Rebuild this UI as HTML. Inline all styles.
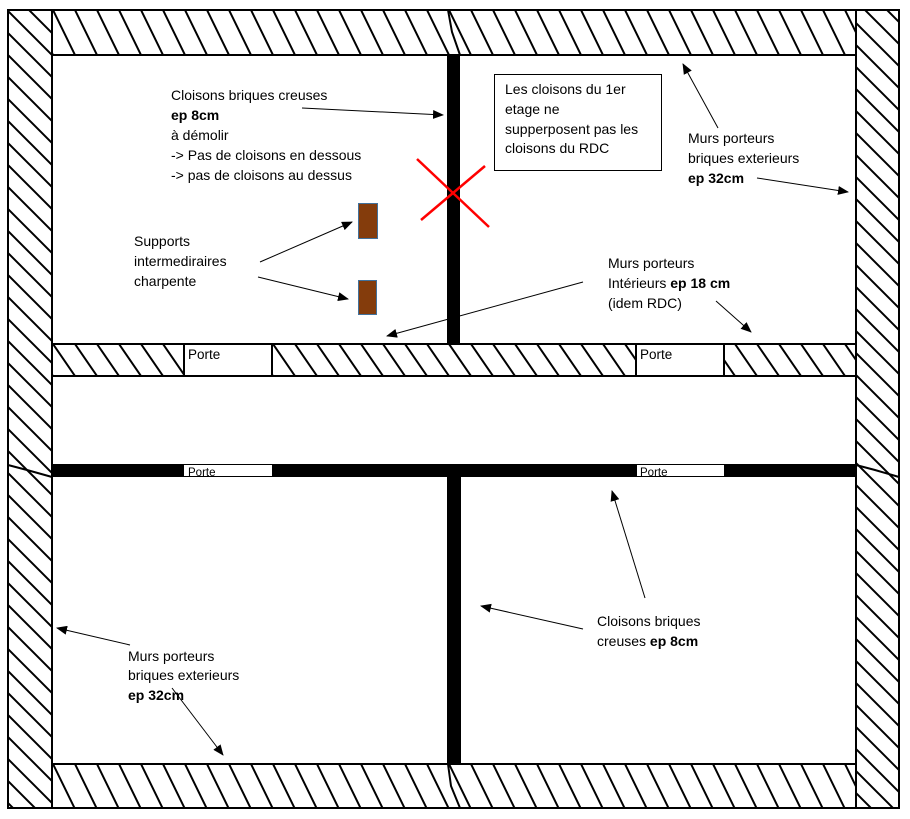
<!DOCTYPE html>
<html><head><meta charset="utf-8">
<style>
html,body{margin:0;padding:0;background:#fff;width:910px;height:819px;overflow:hidden}
svg{display:block}
text{font-family:"Liberation Sans",Arial,sans-serif;font-size:14px;fill:#000}
.b{font-weight:bold}
</style></head>
<body>
<svg width="910" height="819" viewBox="0 0 910 819" xmlns="http://www.w3.org/2000/svg">
<defs>
<pattern id="hT" x="75" y="10" width="22" height="45" patternUnits="userSpaceOnUse">
<path d="M-22,-45 L44,90 M-44,-45 L22,90 M0,-45 L66,90" stroke="#000" stroke-width="2" fill="none"/>
</pattern>
<pattern id="hB" x="75" y="764" width="22" height="45" patternUnits="userSpaceOnUse">
<path d="M-22,-45 L44,90 M-44,-45 L22,90 M0,-45 L66,90" stroke="#000" stroke-width="2" fill="none"/>
</pattern>
<pattern id="hL" x="8" y="11" width="22" height="22" patternUnits="userSpaceOnUse">
<path d="M-22,-22 L44,44 M-22,0 L22,44 M0,-22 L44,22" stroke="#000" stroke-width="2" fill="none"/>
</pattern>
<pattern id="hR" x="857" y="420" width="22" height="22" patternUnits="userSpaceOnUse">
<path d="M-22,-22 L44,44 M-22,0 L22,44 M0,-22 L44,22" stroke="#000" stroke-width="2" fill="none"/>
</pattern>
<pattern id="hM" x="75" y="344" width="22" height="32" patternUnits="userSpaceOnUse">
<path d="M-22,-32 L44,64 M-44,-32 L22,64 M0,-32 L66,64" stroke="#000" stroke-width="2" fill="none"/>
</pattern>
<marker id="ah" markerUnits="userSpaceOnUse" markerWidth="11" markerHeight="9" refX="10" refY="4.5" orient="auto">
<path d="M0,0 L11,4.5 L0,9 z" fill="#000"/>
</marker>
</defs>

<rect x="0" y="0" width="910" height="819" fill="#fff"/>

<!-- hatched walls -->
<rect x="8" y="10" width="44" height="798" fill="url(#hL)"/>
<rect x="856" y="10" width="43" height="798" fill="url(#hR)"/>
<rect x="52" y="10" width="804" height="45" fill="url(#hT)"/>
<rect x="52" y="764" width="804" height="44" fill="url(#hB)"/>
<rect x="52" y="344" width="804" height="32" fill="url(#hM)"/>

<!-- kinks -->
<polyline points="448,10 452,32 460,55" fill="none" stroke="#000" stroke-width="2"/>
<polyline points="448,764 451,786 460,808" fill="none" stroke="#000" stroke-width="2"/>
<polyline points="8,465 27,470 52,477" fill="none" stroke="#000" stroke-width="2"/>
<polyline points="856,465 875,470 899,477" fill="none" stroke="#000" stroke-width="2"/>

<!-- wall outlines -->
<g fill="none" stroke="#000" stroke-width="2">
<rect x="8" y="10" width="891" height="798"/>
<line x1="52" y1="10" x2="52" y2="808"/>
<line x1="856" y1="10" x2="856" y2="808"/>
<line x1="52" y1="55" x2="856" y2="55"/>
<line x1="52" y1="764" x2="856" y2="764"/>
<rect x="52" y="344" width="804" height="32"/>
</g>

<!-- doors in hatched wall -->
<rect x="184" y="344" width="88" height="32" fill="#fff" stroke="#000" stroke-width="2"/>
<rect x="636" y="344" width="88" height="32" fill="#fff" stroke="#000" stroke-width="2"/>
<text x="188" y="359" style="font-size:13.5px">Porte</text>
<text x="640" y="359" style="font-size:13.5px">Porte</text>

<!-- black partitions -->
<rect x="52" y="464" width="804" height="13" fill="#000"/>
<rect x="447" y="55" width="13" height="289" fill="#000"/>
<rect x="447" y="477" width="14" height="287" fill="#000"/>
<rect x="184" y="465" width="88" height="11" fill="#fff"/>
<rect x="637" y="465" width="87" height="11" fill="#fff"/>
<text x="188" y="476" style="font-size:11.5px">Porte</text>
<text x="640" y="476" style="font-size:11.5px">Porte</text>

<!-- red X -->
<line x1="417" y1="159" x2="489" y2="227" stroke="#ff0000" stroke-width="2.5"/>
<line x1="485" y1="166" x2="421" y2="220" stroke="#ff0000" stroke-width="2.5"/>

<!-- supports -->
<rect x="358.5" y="203.5" width="19" height="35" fill="#843c0c" stroke="#41719c" stroke-width="1"/>
<rect x="358.5" y="280.5" width="18" height="34" fill="#843c0c" stroke="#41719c" stroke-width="1"/>

<!-- text box -->
<rect x="494.5" y="74.5" width="167" height="96" fill="#fff" stroke="#000" stroke-width="1"/>
<text x="505" y="94">Les cloisons du 1er</text>
<text x="505" y="114">etage ne</text>
<text x="505" y="134">supperposent pas les</text>
<text x="505" y="153">cloisons du RDC</text>

<!-- labels -->
<text x="171" y="100">Cloisons briques creuses</text>
<text x="171" y="120" class="b">ep 8cm</text>
<text x="171" y="140">à démolir</text>
<text x="171" y="160">-&gt; Pas de cloisons en dessous</text>
<text x="171" y="180">-&gt; pas de cloisons au dessus</text>

<text x="134" y="246">Supports</text>
<text x="134" y="266">intermediraires</text>
<text x="134" y="286">charpente</text>

<text x="688" y="143">Murs porteurs</text>
<text x="688" y="163">briques exterieurs</text>
<text x="688" y="183" class="b">ep 32cm</text>

<text x="608" y="268">Murs porteurs</text>
<text x="608" y="288">Intérieurs <tspan class="b">ep 18 cm</tspan></text>
<text x="608" y="308">(idem RDC)</text>

<text x="597" y="626">Cloisons briques</text>
<text x="597" y="646">creuses <tspan class="b">ep 8cm</tspan></text>

<text x="128" y="661">Murs porteurs</text>
<text x="128" y="680">briques exterieurs</text>
<text x="128" y="700" class="b">ep 32cm</text>

<!-- arrows -->
<g stroke="#000" stroke-width="1" fill="none" marker-end="url(#ah)">
<line x1="302" y1="108" x2="443" y2="115"/>
<line x1="260" y1="262" x2="352" y2="222"/>
<line x1="258" y1="277" x2="348" y2="299"/>
<line x1="583" y1="282" x2="387" y2="336"/>
<line x1="716" y1="301" x2="751" y2="332"/>
<line x1="718" y1="128" x2="683" y2="64"/>
<line x1="757" y1="178" x2="848" y2="192"/>
<line x1="645" y1="598" x2="612" y2="491"/>
<line x1="583" y1="629" x2="481" y2="606"/>
<line x1="130" y1="645" x2="57" y2="628"/>
<line x1="172" y1="688" x2="223" y2="755"/>
</g>
</svg>
</body></html>
